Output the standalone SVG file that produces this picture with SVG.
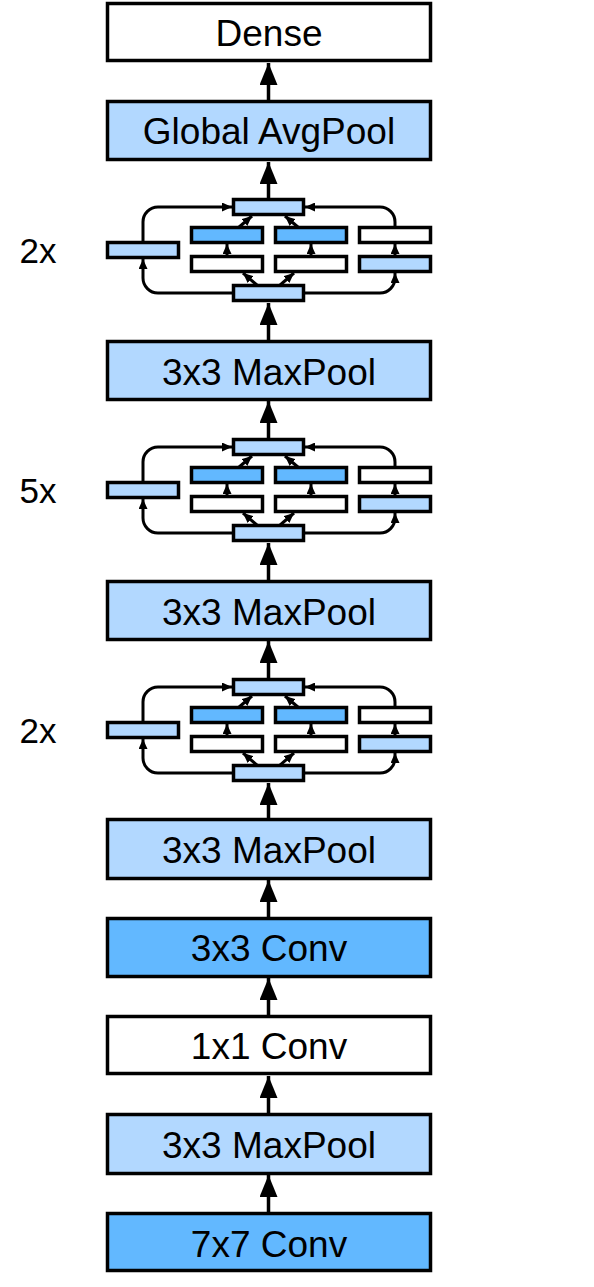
<svg xmlns="http://www.w3.org/2000/svg" width="594" height="1287" viewBox="0 0 594 1287">
<style>
.b{stroke:#000;stroke-width:3.5}
.w{fill:#fff}
.l{fill:#b2d8ff}
.d{fill:#62b8ff}
.t{font-family:"Liberation Sans",Arial,sans-serif;font-size:37px;fill:#000;text-anchor:middle}
.r{font-family:"Liberation Sans",Arial,sans-serif;font-size:35px;fill:#000;text-anchor:middle}
.c{fill:none;stroke:#000;stroke-width:3}
.m{stroke:#000;stroke-width:3.5;fill:none}
</style>
<defs>
<marker id="big" markerUnits="userSpaceOnUse" viewBox="0 0 22 18" refX="22" refY="9" markerWidth="22" markerHeight="18" orient="auto"><path d="M0,0 L22,9 L0,18 Z" fill="#000"/></marker>
<marker id="sm" markerUnits="userSpaceOnUse" viewBox="0 0 10 9" refX="10" refY="4.5" markerWidth="10" markerHeight="9" orient="auto"><path d="M0,0 L10,4.5 L0,9 Z" fill="#000"/></marker>
<g id="inc">
<g class="c">
<path d="M232,293 H158 A15,15 0 0 1 143,278 V259" marker-end="url(#sm)"/>
<path d="M143,241 V222 A15,15 0 0 1 158,207 H232" marker-end="url(#sm)"/>
<path d="M305,293 H380 A15,15 0 0 0 395,278 V273" marker-end="url(#sm)"/>
<path d="M395,226 V222 A15,15 0 0 0 380,207 H305" marker-end="url(#sm)"/>
<path d="M238,228 L252,216" marker-end="url(#sm)"/>
<path d="M299,228 L285,216" marker-end="url(#sm)"/>
<path d="M258,286 L243,273" marker-end="url(#sm)"/>
<path d="M279,286 L294,273" marker-end="url(#sm)"/>
<path d="M227,255 V244" marker-end="url(#sm)"/>
<path d="M311,255 V244" marker-end="url(#sm)"/>
<path d="M395,255 V244" marker-end="url(#sm)"/>
</g>
<rect class="b l" x="233.5" y="199.5" width="70" height="15"/>
<rect class="b l" x="107.5" y="242.5" width="71" height="15"/>
<rect class="b d" x="191.5" y="227.5" width="71" height="15"/>
<rect class="b d" x="275.5" y="227.5" width="71" height="15"/>
<rect class="b w" x="359.5" y="227.5" width="71" height="15"/>
<rect class="b w" x="191.5" y="256.5" width="71" height="15"/>
<rect class="b w" x="275.5" y="256.5" width="71" height="15"/>
<rect class="b l" x="359.5" y="256.5" width="71" height="15"/>
<rect class="b l" x="233.5" y="285.5" width="70" height="15"/>
</g>
</defs>
<g id="connectors">
<path class="m" d="M268.5,100 V63" marker-end="url(#big)"/>
<path class="m" d="M268.5,198 V162" marker-end="url(#big)"/>
<path class="m" d="M268.5,340 V303" marker-end="url(#big)"/>
<path class="m" d="M268.5,438 V401" marker-end="url(#big)"/>
<path class="m" d="M268.5,580 V543" marker-end="url(#big)"/>
<path class="m" d="M268.5,678 V641" marker-end="url(#big)"/>
<path class="m" d="M268.5,818 V783" marker-end="url(#big)"/>
<path class="m" d="M268.5,917 V880" marker-end="url(#big)"/>
<path class="m" d="M268.5,1015 V978" marker-end="url(#big)"/>
<path class="m" d="M268.5,1113 V1076" marker-end="url(#big)"/>
<path class="m" d="M268.5,1212 V1175" marker-end="url(#big)"/>
</g>
<g id="dense"><rect class="b w" x="107.5" y="3.5" width="323" height="57"/><text class="t" x="269" y="46">Dense</text></g>
<g id="avgpool"><rect class="b l" x="107.5" y="101.5" width="323" height="58"/><text class="t" x="269" y="144">Global AvgPool</text></g>
<g id="inception1"><use href="#inc"/><text class="r" x="38" y="263">2x</text></g>
<g id="maxpool1"><rect class="b l" x="107.5" y="341.5" width="323" height="58"/><text class="t" x="269" y="385">3x3 MaxPool</text></g>
<g id="inception2"><use href="#inc" transform="translate(0,240)"/><text class="r" x="38" y="503">5x</text></g>
<g id="maxpool2"><rect class="b l" x="107.5" y="581.5" width="323" height="58"/><text class="t" x="269" y="625">3x3 MaxPool</text></g>
<g id="inception3"><use href="#inc" transform="translate(0,480)"/><text class="r" x="38" y="743">2x</text></g>
<g id="maxpool3"><rect class="b l" x="107.5" y="819.5" width="323" height="59"/><text class="t" x="269" y="863">3x3 MaxPool</text></g>
<g id="conv3"><rect class="b d" x="107.5" y="918.5" width="323" height="58"/><text class="t" x="269" y="961">3x3 Conv</text></g>
<g id="conv1"><rect class="b w" x="107.5" y="1016.5" width="323" height="57"/><text class="t" x="269" y="1059">1x1 Conv</text></g>
<g id="maxpool0"><rect class="b l" x="107.5" y="1114.5" width="323" height="59"/><text class="t" x="269" y="1158">3x3 MaxPool</text></g>
<g id="conv7"><rect class="b d" x="107.5" y="1213.5" width="323" height="57"/><text class="t" x="269" y="1257">7x7 Conv</text></g>
</svg>
